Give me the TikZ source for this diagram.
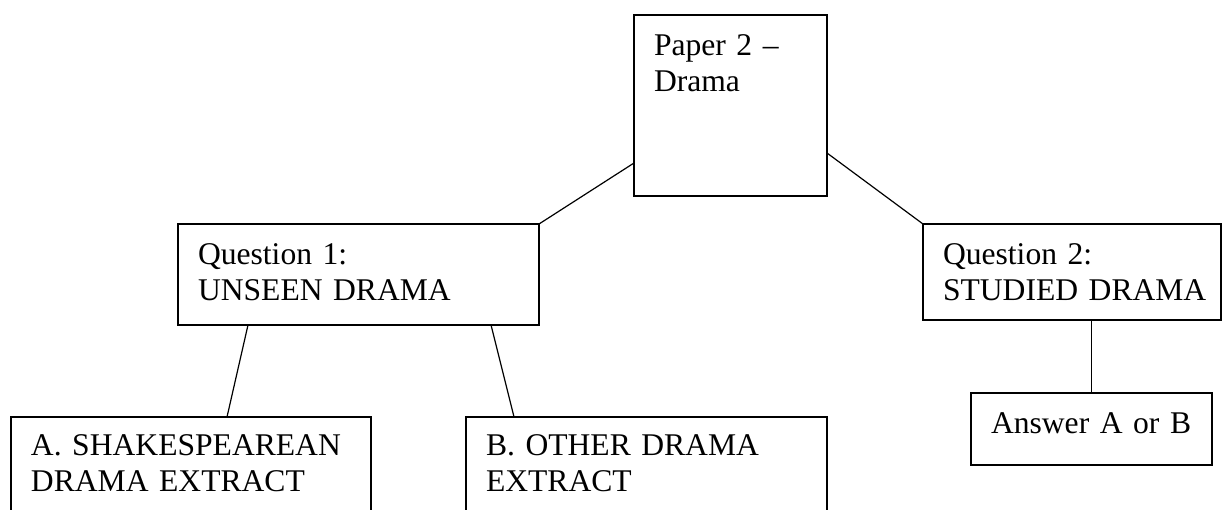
\documentclass[tikz,border=0pt]{standalone}
\usepackage{fontspec}
\setmainfont{Liberation Serif}
\usetikzlibrary{calc}
\tikzset{
  box/.style={draw,line width=.8pt,anchor=north west,outer sep=0pt,
    inner xsep=10pt,inner ysep=0pt,align=left,text height=20pt,
    font=\fontsize{15.8}{18}\selectfont},
  link/.style={line width=.6pt}
}

\begin{document}
\begin{tikzpicture}[x=.5pt,y=-.5pt]
  \useasboundingbox (0,0) rectangle (1224,509);
  \clip (0,0) rectangle (1224,509);

  \node[box,text width=76.5pt,text depth=70.5pt] (paper) at (634,15) {Paper 2 –\\Drama};
  \node[box,text width=160.5pt,text depth=30.5pt] (qone) at (178,224) {Question 1:\\UNSEEN DRAMA};
  \node[box,text width=129pt,text depth=28pt] (qtwo) at (923,224) {Question 2:\\STUDIED~DRAMA};
  \node[box,text width=160pt,text height=19pt,text depth=41pt] (extA) at (11,417) {A. SHAKESPEAREAN\\DRAMA EXTRACT};
  \node[box,text width=160.5pt,text height=19pt,text depth=41pt] (extB) at (466,417) {B. OTHER DRAMA\\EXTRACT};
  \node[box,text width=100.5pt,text depth=16pt] (answer) at (971,393) {Answer A or B};

  \draw[link] ($(paper.south west)+(0,-33)$) -- (qone.north east);
  \draw[link] ($(paper.south east)+(0,-43)$) -- (qtwo.north west);
  \draw[link] ($(qone.south west)+(70,0)$) -- ($(extA.north west)+(216,0)$);
  \draw[link] ($(qone.south east)+(-48,0)$) -- ($(extB.north west)+(48,0)$);
  \draw[link] (answer.north |- qtwo.south) -- (answer.north);
\end{tikzpicture}
\end{document}
